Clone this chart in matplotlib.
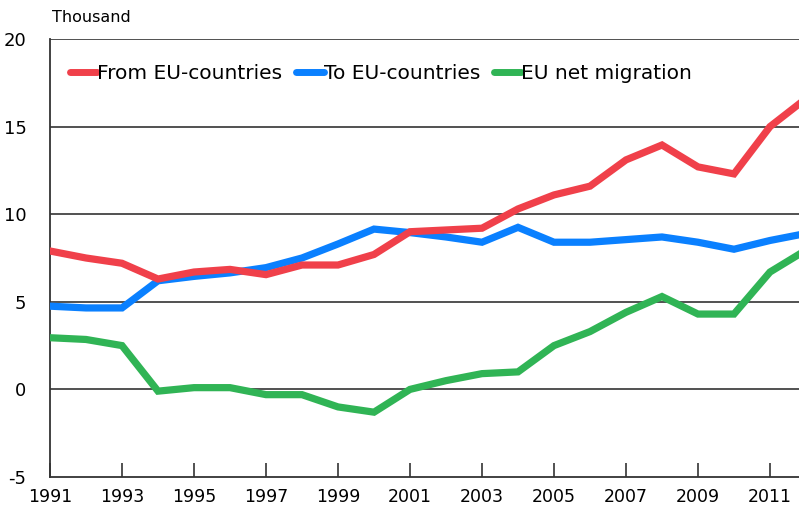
import numpy as np
import matplotlib
matplotlib.use("Agg")
import matplotlib.pyplot as plt

plt.rcParams["axes.unicode_minus"] = False

# years and series (thousand persons)
years = np.arange(1991, 2013)
from_eu = [7.9, 7.5, 7.2, 6.3, 6.7, 6.85, 6.55, 7.1, 7.1, 7.7, 9.0,
           9.1, 9.2, 10.3, 11.1, 11.6, 13.1, 13.95, 12.7, 12.3, 15.0, 16.6]
to_eu = [4.75, 4.65, 4.65, 6.2, 6.45, 6.65, 6.95, 7.5, 8.3, 9.15, 8.95,
         8.7, 8.4, 9.25, 8.4, 8.4, 8.55, 8.7, 8.4, 8.0, 8.5, 8.9]
net = [2.95, 2.85, 2.5, -0.1, 0.1, 0.1, -0.3, -0.3, -1.0, -1.3, 0.0,
       0.5, 0.9, 1.0, 2.5, 3.3, 4.4, 5.3, 4.3, 4.3, 6.7, 7.95]

labels = ["From EU-countries", "To EU-countries", "EU net migration"]
colors = ["#f0404a", "#0a80ff", "#30b455"]
xticks = np.arange(1991, 2012, 2)
yticks = [-5, 0, 5, 10, 15, 20]

fig = plt.figure(figsize=(7.99, 5.13), dpi=100)
ax = fig.add_axes([50/799, 1 - 477/513, 749/799, (477 - 39)/513])

lw = 5.2
ax.plot(years, net, color=colors[2], lw=lw, label=labels[2], zorder=3,
        solid_joinstyle="miter")
ax.plot(years, to_eu, color=colors[1], lw=lw, label=labels[1], zorder=4,
        solid_joinstyle="miter")
ax.plot(years, from_eu, color=colors[0], lw=lw, label=labels[0], zorder=5,
        solid_joinstyle="miter")

ax.set_xlim(1991, 1991 + 749/36)
ax.set_ylim(-5, 20)
ax.set_xticks(xticks)
ax.set_yticks(yticks)
ax.tick_params(axis="x", direction="in", length=10, width=1.2,
               color="#333333", labelsize=12.5, pad=8)
ax.tick_params(axis="y", length=0, labelsize=13, pad=17)

for v in [0, 5, 10, 15, 20]:
    ax.axhline(v, color="#333333", lw=1.2, zorder=2)

for s in ["left", "bottom"]:
    ax.spines[s].set_color("#333333")
    ax.spines[s].set_linewidth(1.3)
ax.spines["right"].set_visible(False)
ax.spines["top"].set_visible(False)

h, l = ax.get_legend_handles_labels()
leg = ax.legend(h[::-1], l[::-1], ncol=3, frameon=False, fontsize=14.5,
                loc="upper left", bbox_to_anchor=(0.008, 0.975),
                handlelength=1.35, handletextpad=0.0, columnspacing=0.7,
                borderaxespad=0.3)
for line in leg.get_lines():
    line.set_solid_capstyle("round")
    line.set_linewidth(5)

fig.text(52/799, 1 - 22/513, "Thousand", fontsize=11.5, va="baseline")

fig.savefig("out.png", dpi=100)
